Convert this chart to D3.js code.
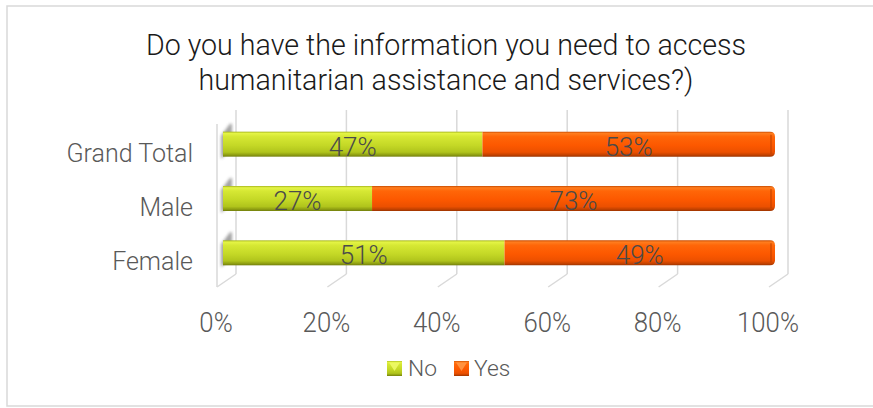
<!DOCTYPE html>
<html>
<head>
<meta charset="utf-8">
<script src="https://cdn.jsdelivr.net/npm/d3@7"></script>
<style>
  html, body { margin: 0; padding: 0; background: #fff; }
  svg { display: block; }
  text { font-family: Roboto, "Noto Sans", sans-serif; font-weight: 300; }
</style>
</head>
<body>
<svg id="chart" width="873" height="408"></svg>
<script>
// Survey answers by group (share of respondents)
const categories = ["Grand Total", "Male", "Female"];
const seriesNames = ["No", "Yes"];
const noValues = [0.47, 0.27, 0.51];
const yesValues = [0.53, 0.73, 0.49];
const tickValues = [0, 0.2, 0.4, 0.6, 0.8, 1.0];
const titleLines = ["Do you have the information you need to access",
                    "humanitarian assistance and services?)"];

const svg = d3.select("#chart");
const W = 873, H = 408;

// narrow (or widen) the light face so it reads like a condensed type
function condense(sel, k) {
  sel.each(function () {
    const len = this.getComputedTextLength();
    d3.select(this).attr("textLength", len * k).attr("lengthAdjust", "spacingAndGlyphs");
  });
}

// outer frame
svg.append("rect")
  .attr("x", 7).attr("y", 6).attr("width", W + 10).attr("height", 400)
  .attr("fill", "#fff").attr("stroke", "#d9d9d9").attr("stroke-width", 1.5);

// gradients for the bevelled bars
const defs = svg.append("defs");
function grad(id, stops) {
  const g = defs.append("linearGradient").attr("id", id)
    .attr("x1", 0).attr("y1", 0).attr("x2", 0).attr("y2", 1);
  stops.forEach(([o, c]) => g.append("stop").attr("offset", o).attr("stop-color", c));
}
grad("gNo", [[0, "#a6b51c"], [0.07, "#e4f445"], [0.2, "#d6e834"], [0.55, "#c4d826"], [0.82, "#b0c41c"], [0.93, "#8e9e12"], [1, "#727f0c"]]);
grad("gYes", [[0, "#c84a00"], [0.07, "#ff7d1e"], [0.2, "#ff6608"], [0.55, "#fc5800"], [0.82, "#ec5000"], [0.93, "#c44200"], [1, "#9c3400"]]);
const shadow = defs.append("filter").attr("id", "blur").attr("x", "-50%").attr("y", "-50%").attr("width", "200%").attr("height", "200%");
shadow.append("feGaussianBlur").attr("stdDeviation", 1.8);

// scales: front plane for axis labels, depth offset for the back wall
const xFront = d3.scaleLinear().domain([0, 1]).range([217, 769]);
const depthX = 19, depthY = -13;
const floorY = 287;
const y = d3.scaleBand().domain(categories).range([117, 280]).paddingInner(0.54).paddingOuter(0.27);
const barShift = 6; // bars sit a third of the way into the depth
const xBar = v => xFront(v) + barShift;
const mid = c => y(c) + y.bandwidth() / 2;

// left side wall
const wall = svg.append("g");
wall.append("line").attr("x1", xFront(0)).attr("x2", xFront(0)).attr("y1", 124).attr("y2", floorY)
  .attr("stroke", "#d9d9d9").attr("stroke-width", 1.5);

// gridlines on the back wall plus their floor diagonals
const grid = svg.append("g");
tickValues.forEach(t => {
  const fx = xFront(t), bx = fx + depthX;
  grid.append("line").attr("x1", bx).attr("x2", bx).attr("y1", 110).attr("y2", floorY + depthY)
    .attr("stroke", "#d9d9d9").attr("stroke-width", 1.5);
  grid.append("line").attr("x1", bx).attr("x2", fx).attr("y1", floorY + depthY).attr("y2", floorY)
    .attr("stroke", "#d9d9d9").attr("stroke-width", 1.5);
});

// shadows cast by the bar ends onto the side wall
svg.append("g").selectAll("path").data(categories).join("path")
  .attr("d", d => {
    const x0 = xBar(0) - 2, y0 = y(d);
    return `M${x0},${y0 + 4} L${x0 + 9},${y0 - 8} L${x0 + 11},${y0 - 8} L${x0 + 11},${y0 + y.bandwidth() - 8} L${x0},${y0 + y.bandwidth() + 2} Z`;
  })
  .attr("fill", "#8c8c8c").attr("opacity", 0.8).attr("filter", "url(#blur)");

// stacked bars
const rows = categories.map((c, i) => ({ c, no: noValues[i], yes: yesValues[i] }));
const bars = svg.append("g");
rows.forEach(r => {
  const y0 = y(r.c), h = y.bandwidth();
  const xs = xBar(0), xm = xBar(r.no), xe = xBar(r.no + r.yes);
  // No segment
  bars.append("rect").attr("x", xs).attr("y", y0).attr("width", xm - xs).attr("height", h)
    .attr("fill", "url(#gNo)");
  // Yes segment with rounded far end
  const rr = 5;
  bars.append("path")
    .attr("d", `M${xm},${y0} L${xe - rr},${y0} Q${xe},${y0} ${xe},${y0 + rr} L${xe},${y0 + h - rr} Q${xe},${y0 + h} ${xe - rr},${y0 + h} L${xm},${y0 + h} Z`)
    .attr("fill", "url(#gYes)");
  bars.append("path")
    .attr("d", `M${xe - 4},${y0 + 3} L${xe - 4},${y0 + h - 3}`)
    .attr("stroke", "#b53c00").attr("stroke-width", 1.5).attr("opacity", 0.6);
});

// value labels
const labels = svg.append("g").attr("fill", "#4a4a4a").attr("font-size", 26).attr("text-anchor", "middle");
rows.forEach(r => {
  const by = mid(r.c) + 11.5;
  labels.append("text").attr("x", (xBar(0) + xBar(r.no)) / 2).attr("y", by)
    .text(Math.round(r.no * 100) + "%");
  labels.append("text").attr("x", (xBar(r.no) + xBar(r.no + r.yes)) / 2).attr("y", by)
    .text(Math.round(r.yes * 100) + "%");
});

// category axis labels
const cat = svg.append("g").attr("fill", "#595959").attr("font-size", 25).attr("text-anchor", "end");
categories.forEach(c => {
  cat.append("text").attr("x", 193).attr("y", mid(c) + 17.5).text(c);
});

// value axis labels
const xAxis = d3.axisBottom(xFront).tickValues(tickValues).tickFormat(d3.format(".0%")).tickSize(0).tickPadding(0);
const axG = svg.append("g").attr("transform", `translate(-1.5,${332})`).call(xAxis);
axG.select(".domain").remove();
axG.selectAll("text").attr("font-size", 28).attr("fill", "#595959")
  .attr("font-family", "Roboto, sans-serif").attr("font-weight", 300).attr("dy", 0).attr("y", 0);
condense(axG.selectAll("text"), 0.92);

// title
const title = svg.append("g").attr("fill", "#1a1a1a").attr("font-size", 29.5).attr("text-anchor", "middle");
titleLines.forEach((t, i) => {
  title.append("text").attr("x", 446).attr("y", 55 + i * 35).text(t);
});
condense(title.selectAll("text"), 0.97);

// legend
const lg = svg.append("g").attr("font-size", 21.5).attr("fill", "#595959");
const legendItems = [{ name: seriesNames[0], g: "url(#gNo)", x: 387, tx: 408 },
                     { name: seriesNames[1], g: "url(#gYes)", x: 454, tx: 474 }];
legendItems.forEach(it => {
  lg.append("rect").attr("x", it.x).attr("y", 361).attr("width", 15).attr("height", 15).attr("fill", it.g);
  lg.append("path").attr("d", `M${it.x + 2},${362.5} L${it.x + 13},${362.5} L${it.x + 7.5},${371} Z`)
    .attr("fill", it.name === "No" ? "#f0fa6a" : "#ff9a4a").attr("opacity", 0.85);
  lg.append("text").attr("x", it.tx).attr("y", 376).text(it.name);
});
condense(lg.selectAll("text"), 1.06);
</script>
</body>
</html>
